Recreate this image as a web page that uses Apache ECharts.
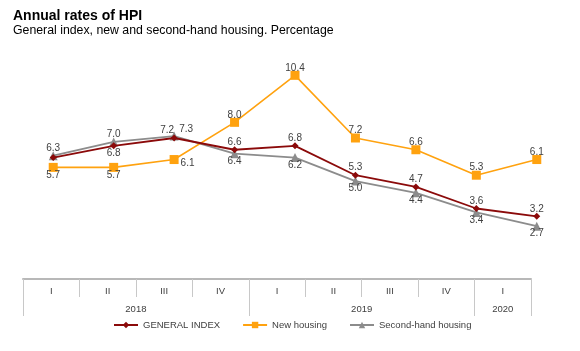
<!DOCTYPE html>
<html>
<head>
<meta charset="utf-8">
<script src="https://cdn.jsdelivr.net/npm/echarts@6/dist/echarts.min.js"></script>
<style>
html,body{margin:0;padding:0;background:#fff;}
#c{width:580px;height:351px;}
</style>
</head>
<body>
<div id="c"></div>
<script>
var quarters = ['I','II','III','IV','I','II','III','IV','I'];
var yearSlots = ['','','','','2018','','','','','','','','2019','','','','','2020',''];
var generalIndex = [6.2, 6.8, 7.2, 6.6, 6.8, 5.3, 4.7, 3.6, 3.2];
var newHousing = [5.7, 5.7, 6.1, 8.0, 10.4, 7.2, 6.6, 5.3, 6.1];
var secondHand = [6.3, 7.0, 7.3, 6.4, 6.2, 5.0, 4.4, 3.4, 2.7];
var seriesNames = ['GENERAL INDEX', 'New housing', 'Second-hand housing'];

// label placement (style only)
var giLabelPos = ['none','bottom','topL','top','top','top','top','top','top'];
var nhLabelPos = ['bottom','bottom','rightB','top','top','top','top','top','top'];
var shLabelPos = ['top','top','topR','bottom','bottom','bottom','bottom','bottom','bottom'];

var LABEL_COLOR = '#404040';
function buildData(values, pos, dist) {
  return values.map(function (v, i) {
    var p = pos[i];
    var lab = {show: true, position: 'top', distance: dist};
    if (p === 'none') lab = {show: false};
    else if (p === 'bottom') lab.position = 'bottom';
    else if (p === 'topL') { lab.position = 'top'; lab.offset = [-7, 0]; }
    else if (p === 'topR') { lab.position = 'top'; lab.offset = [12, 1]; }
    else if (p === 'rightB') { lab.position = 'right'; lab.distance = 2; lab.offset = [0, 4]; }
    return {value: v, label: lab};
  });
}

var chart = echarts.init(document.getElementById('c'));
var baseLabel = {show: true, color: LABEL_COLOR, fontSize: 10, fontFamily: 'Liberation Sans, Arial, sans-serif', formatter: function (p) { return p.value.toFixed(1); }};

chart.setOption({
  animation: false,
  textStyle: {fontFamily: 'Liberation Sans, Arial, sans-serif'},
  title: {
    text: 'Annual rates of HPI',
    subtext: 'General index, new and second-hand housing. Percentage',
    left: 8, top: 4, itemGap: 2,
    textStyle: {fontSize: 14, fontWeight: 'bold', color: '#000', fontFamily: 'Liberation Sans, Arial, sans-serif'},
    subtextStyle: {fontSize: 12.3, color: '#000', fontFamily: 'Liberation Sans, Arial, sans-serif'}
  },
  legend: {
    left: 108, top: 315,
    itemWidth: 24, itemHeight: 8, itemGap: 22,
    textStyle: {fontSize: 9.5, color: LABEL_COLOR},
    data: seriesNames
  },
  grid: [
    {left: 23, right: 13, top: 44, bottom: 72},
    {left: 23, right: 49, top: 44, bottom: 72}
  ],
  xAxis: [
    {type: 'category', gridIndex: 0, data: quarters, boundaryGap: true, show: false},
    {type: 'category', gridIndex: 1, data: quarters, boundaryGap: true, position: 'bottom',
      axisLine: {show: true, lineStyle: {color: '#b8b8b8', width: 2}},
      axisTick: {show: true, interval: 0, length: 18, lineStyle: {color: '#c8c8c8', width: 1}},
      axisLabel: {interval: 0, margin: 7, fontSize: 9.5, color: LABEL_COLOR}
    },
    {type: 'category', gridIndex: 1, data: yearSlots, boundaryGap: false, position: 'bottom',
      axisLine: {show: false},
      axisTick: {show: true, length: 37, lineStyle: {color: '#c8c8c8', width: 1},
        interval: function (i) { return i === 0 || i === 8 || i === 16 || i === 18; }},
      axisLabel: {margin: 25, fontSize: 9.5, color: LABEL_COLOR,
        interval: function (i) { return i === 4 || i === 12 || i === 17; }}
    }
  ],
  yAxis: [
    {type: 'value', gridIndex: 0, min: 0, max: 12, show: false},
    {type: 'value', gridIndex: 1, min: 0, max: 12, show: false}
  ],
  series: [
    {name: seriesNames[0], type: 'line', xAxisIndex: 0, yAxisIndex: 0,
      data: buildData(generalIndex, giLabelPos, -1),
      symbol: 'diamond', symbolSize: 7, z: 4,
      itemStyle: {color: '#8b0a0a'}, lineStyle: {color: '#8b0a0a', width: 1.8},
      label: baseLabel},
    {name: seriesNames[1], type: 'line', xAxisIndex: 0, yAxisIndex: 0,
      data: buildData(newHousing, nhLabelPos, -2),
      symbol: 'rect', symbolSize: 9, z: 3,
      itemStyle: {color: '#ffa20f'}, lineStyle: {color: '#ffa20f', width: 1.6},
      label: baseLabel},
    {name: seriesNames[2], type: 'line', xAxisIndex: 0, yAxisIndex: 0,
      data: buildData(secondHand, shLabelPos, -2),
      symbol: 'triangle', symbolSize: 9, z: 2,
      itemStyle: {color: '#8c8c8c'}, lineStyle: {color: '#8c8c8c', width: 1.8},
      label: baseLabel}
  ]
});
</script>
</body>
</html>
